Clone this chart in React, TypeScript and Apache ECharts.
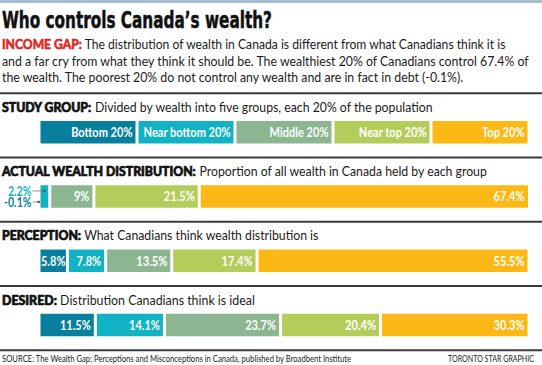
import React, { useEffect, useRef } from 'react';
import * as echarts from 'echarts';

const categories = ['Study group', 'Actual', 'Perception', 'Desired'];
const groups = ['Bottom', 'Near bottom', 'Middle', 'Near top', 'Top'];
const studyGroup = [20, 20, 20, 20, 20];
const actual = [-0.1, 2.2, 9, 21.5, 67.4];
const perception = [5.8, 7.8, 13.5, 17.4, 55.5];
const desired = [11.5, 14.1, 23.7, 20.4, 30.3];
const rows = [studyGroup, actual, perception, desired];
const colors = ['#08809d', '#12b2c5', '#8cb592', '#b3cc5a', '#fcb814'];

const title = 'Who controls Canada\u2019s wealth?';
const introLead = 'INCOME GAP:';
const introLines = [
  ' The distribution of wealth in Canada is different from what Canadians think it is',
  'and a far cry from what they think it should be. The wealthiest 20% of Canadians control 67.4% of',
  'the wealth. The poorest 20% do not control any wealth and are in fact in debt (-0.1%).',
];
const sections = [
  ['STUDY GROUP:', 'Divided by wealth into five groups, each 20% of the population'],
  ['ACTUAL WEALTH DISTRIBUTION:', 'Proportion of all wealth in Canada held by each group'],
  ['PERCEPTION:', 'What Canadians think wealth distribution is'],
  ['DESIRED:', 'Distribution Canadians think is ideal'],
];
const source = 'SOURCE: The Wealth Gap; Perceptions and Misconceptions in Canada, published by Broadbent Institute';
const credit = 'TORONTO STAR GRAPHIC';

export default function App() {
  const ref = useRef<HTMLDivElement>(null);
  useEffect(() => {
    const el = ref.current!;
    const chart = echarts.init(el, null, { renderer: 'svg' });
    const ctx = document.createElement('canvas').getContext('2d')!;
    const measure = (t: string, f: string) => {
      ctx.font = f;
      return ctx.measureText(t).width;
    };
    const has = (name: string) => {
      const s = 'Bottom 20% Near top mmm WWW 123';
      return Math.abs(measure(s, `20px "${name}", monospace`) - measure(s, '20px monospace')) > 0.5;
    };
    const cond = has('Liberation Sans Narrow')
      ? 'Liberation Sans Narrow'
      : has('DejaVu Sans Condensed')
      ? 'DejaVu Sans Condensed'
      : 'Lato';
    const body = 'Lato';

    const series = groups.map((g, si) => ({
      name: g,
      type: 'bar',
      stack: 'total',
      barWidth: 25.5,
      itemStyle: { color: colors[si], borderColor: '#fff', borderWidth: 1.5 },
      label: { show: false },
      data: rows.map((r) => r[si]),
    }));

    chart.setOption({
      animation: false,
      grid: { left: 38.5, width: 490.5, top: 100, height: 257.2, containLabel: false, outerBoundsMode: 'none' },
      xAxis: { type: 'value', min: -0.1, max: 100, show: false },
      yAxis: { type: 'category', data: categories, inverse: true, show: false },
      series,
    } as any);

    const px = (x: number, y: number) => chart.convertToPixel({ gridIndex: 0 } as any, [x, y]) as number[];
    const centers = categories.map((_, i) => px(0, i)[1]);
    const step = centers[1] - centers[0];
    const x0 = px(0, 1)[0];

    const textColor = '#1a1a1a';
    const fit = (w: number, target: number) => target / w;

    const els: any[] = [];
    els.push({ type: 'rect', shape: { x: 0, y: 0, width: 542, height: 3 }, style: { fill: '#a8bccf' } });

    const titleFont = `bold 23px "${cond}"`;
    els.push({
      type: 'text',
      x: 2,
      y: 20.5,
      scaleX: fit(measure(title, titleFont), 270),
      style: { text: title, font: titleFont, fill: '#111', stroke: '#111', lineWidth: 0.5, verticalAlign: 'middle' },
    });

    const introEnds = [507, 531, 465];
    const introY = [44, 60.5, 77];
    const bodyFont = `13px ${body}`;
    const boldFont = `bold 13px ${body}`;
    const heavyFont = `900 13px ${body}`;
    introLines.forEach((ln, i) => {
      const lead = i === 0 ? introLead : '';
      const w = measure(lead, boldFont) + measure(ln, bodyFont);
      els.push({
        type: 'text',
        x: 2,
        y: introY[i],
        scaleX: fit(w, introEnds[i] - 2),
        style: {
          text: (lead ? `{r|${lead}}` : '') + ln,
          rich: { r: { fill: '#e2231a', font: boldFont, stroke: '#e2231a', lineWidth: 0.6 } },
          font: bodyFont,
          fill: textColor,
          verticalAlign: 'middle',
        },
      });
    });

    const headEnds = [434, 488, 319, 255];
    sections.forEach(([b, r], i) => {
      const c = centers[i];
      els.push({ type: 'rect', shape: { x: 0, y: c - 40, width: 542, height: 2 }, style: { fill: '#3a3a3a' } });
      const w = measure(b, heavyFont) + measure(' ' + r, bodyFont);
      els.push({
        type: 'text',
        x: 2,
        y: c - 25,
        scaleX: fit(w, headEnds[i] - 2),
        style: {
          text: `{b|${b}} ${r}`,
          rich: { b: { fill: '#111', font: heavyFont, stroke: '#111', lineWidth: 0.7 } },
          font: bodyFont,
          fill: textColor,
          verticalAlign: 'middle',
        },
      });
    });

    // value labels at the right end of each segment, placed through the axis scale
    const labelFont = `bold 13.5px ${body}`;
    const labelScale = 0.82;
    rows.forEach((r, ri) => {
      let pos = 0;
      r.forEach((v, si) => {
        const start = pos;
        let end = 0;
        if (v >= 0) {
          pos += v;
          end = pos;
        }
        if (ri === 1 && si < 2) return;
        const text = ri === 0 ? `${groups[si]} ${v}%` : `${v}%`;
        const p = px(Math.min(end, 100), ri);
        const segW = p[0] - px(start, ri)[0];
        const tw = measure(text, labelFont) * labelScale;
        const pad = Math.max(1, Math.min(4.5, (segW - tw) / 2));
        els.push({
          type: 'text',
          x: p[0] - pad,
          y: p[1],
          scaleX: labelScale,
          z: 5,
          style: { text, font: labelFont, fill: '#fff', textAlign: 'right', verticalAlign: 'middle' },
        });
      });
    });

    const footY = centers[3] + step - 40;
    const footFont = `9px ${body}`;
    els.push({ type: 'rect', shape: { x: 0, y: footY, width: 542, height: 2 }, style: { fill: '#3a3a3a' } });
    els.push({
      type: 'text',
      x: 2,
      y: footY + 9,
      scaleX: fit(measure(source, footFont), 350),
      style: { text: source, font: footFont, fill: '#222', verticalAlign: 'middle' },
    });
    els.push({
      type: 'text',
      x: 534,
      y: footY + 9,
      scaleX: fit(measure(credit, footFont), 86),
      style: { text: credit, font: footFont, fill: '#222', textAlign: 'right', verticalAlign: 'middle' },
    });

    // leader labels for the two smallest groups of the actual distribution
    const pNB = px(actual[1] / 2, 1);
    const pB = px(actual[0] / 2, 1);
    const yA = centers[1];
    const leaders = [
      { text: `${actual[1]}%`, color: '#17aec3', y: yA - 5.5, tx: pNB[0] },
      { text: `${actual[0]}%`, color: '#0b7fa0', y: yA + 5.5, tx: pB[0] },
    ];
    const leadFont = `bold 12.5px ${body}`;
    leaders.forEach((l) => {
      els.push({
        type: 'text',
        x: x0 - 7.5,
        y: l.y,
        scaleX: 0.85,
        style: { text: l.text, font: leadFont, fill: l.color, textAlign: 'right', verticalAlign: 'middle' },
      });
      els.push({
        type: 'line',
        shape: { x1: x0 - 6.5, y1: l.y, x2: l.tx, y2: l.y },
        style: { stroke: '#777', lineWidth: 0.8 },
        z: 10,
      });
      els.push({ type: 'circle', shape: { cx: l.tx, cy: l.y, r: 1.3 }, style: { fill: '#555' }, z: 11 });
    });

    chart.setOption({ graphic: els } as any);
    return () => chart.dispose();
  }, []);
  return <div ref={ref} style={{ position: 'fixed', left: 0, top: 0, width: 542, height: 365, background: '#fff' }} />;
}
